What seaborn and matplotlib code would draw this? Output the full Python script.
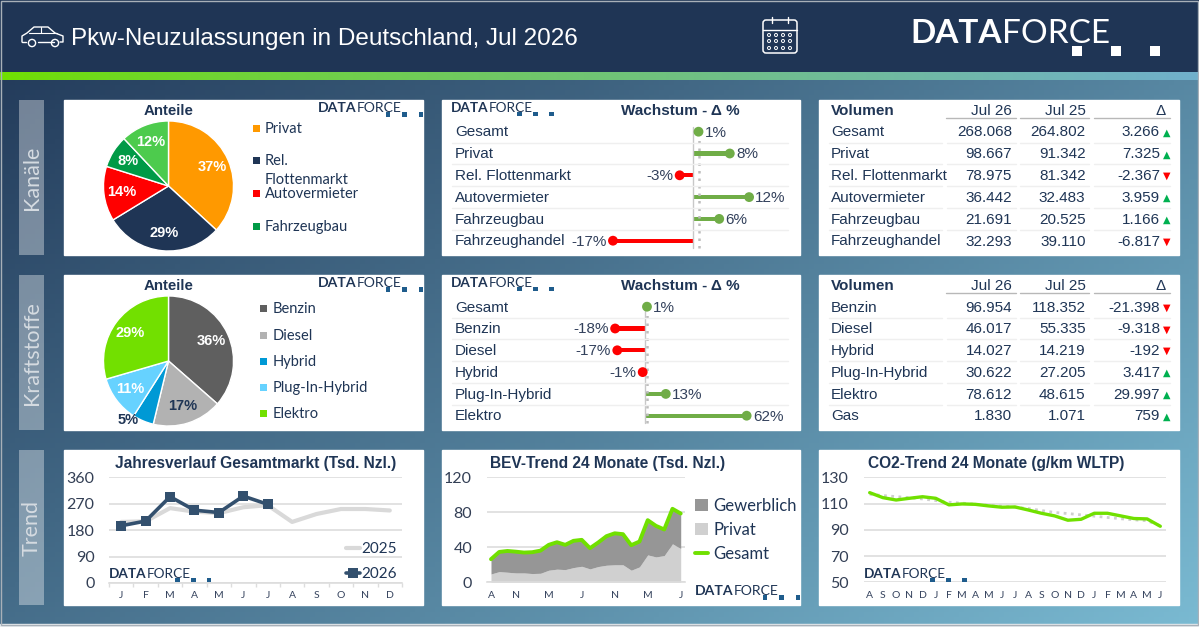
"""Pkw-Neuzulassungen dashboard, Jul 2026."""

import numpy as np
import matplotlib
matplotlib.use('Agg')
import matplotlib.pyplot as plt
from matplotlib.colors import to_rgb
from matplotlib.patches import Rectangle, FancyBboxPatch, Circle
import seaborn as sns

W, H = 1199, 627
NAVY = '#1F3555'
GREEN_LINE = '#70E000'
GRID = '#DDDDDD'
SANS = 'Liberation Sans'
ROUND = 'Lato'

# -- data --
kanal_names = ['Privat', 'Rel. Flottenmarkt', 'Autovermieter', 'Fahrzeugbau']
kanal_legend = ['Privat', 'Rel.\nFlottenmarkt', 'Autovermieter', 'Fahrzeugbau']
kanal_share = [36.8, 29.4, 13.6, 8.1, 12.0]
kanal_colors = ['#FF9900', NAVY, '#FF0000', '#009A46', '#4DCB4D']

kraft_names = ['Benzin', 'Diesel', 'Hybrid', 'Plug-In-Hybrid', 'Elektro']
kraft_share = [36.2, 17.2, 5.2, 11.4, 29.3]
kraft_colors = ['#5F5F5F', '#B2B2B2', '#0099D5', '#66D2FF', '#72E000']

kanal_rows = ['Gesamt', 'Privat', 'Rel. Flottenmarkt', 'Autovermieter', 'Fahrzeugbau', 'Fahrzeughandel']
kanal_growth = [1.2, 8.0, -2.9, 12.2, 5.7, -17.4]
kanal_jul26 = [268068, 98667, 78975, 36442, 21691, 32293]
kanal_jul25 = [264802, 91342, 81342, 32483, 20525, 39110]
kanal_delta = [3266, 7325, -2367, 3959, 1166, -6817]

kraft_rows = ['Gesamt', 'Benzin', 'Diesel', 'Hybrid', 'Plug-In-Hybrid', 'Elektro']
kraft_growth = [1.2, -18.1, -16.8, -1.4, 12.6, 61.6]
kraft_table_rows = ['Benzin', 'Diesel', 'Hybrid', 'Plug-In-Hybrid', 'Elektro', 'Gas']
kraft_jul26 = [96954, 46017, 14027, 30622, 78612, 1830]
kraft_jul25 = [118352, 55335, 14219, 27205, 48615, 1071]
kraft_delta = [-21398, -9318, -192, 3417, 29997, 759]

year_months = ['J', 'F', 'M', 'A', 'M', 'J', 'J', 'A', 'S', 'O', 'N', 'D']
market_2025 = [208, 210, 255, 243, 238, 258, 265, 208, 235, 252, 252, 247]
market_2026 = [195, 211, 294, 248, 240, 296, 268]

bev_total = [26.4, 34.7, 35.8, 35.0, 34.0, 34.4, 36.2, 42.8, 45.8, 42.8, 47.4, 48.5,
             39.0, 45.5, 52.7, 56.0, 55.0, 42.4, 46.6, 71.0, 64.5, 60.4, 84.0, 78.6]
bev_privat = [9.5, 12.2, 11.5, 10.7, 10.7, 10.0, 10.3, 13.8, 15.0, 14.5, 16.8, 18.3,
              15.3, 18.0, 19.5, 20.0, 20.0, 13.8, 17.6, 31.3, 29.0, 30.5, 44.0, 38.6]
bev_gewerblich = [16.9, 22.5, 24.3, 24.3, 23.3, 24.4, 25.9, 29.0, 30.8, 28.3, 30.6, 30.2,
                  23.7, 27.5, 33.2, 36.0, 35.0, 28.6, 29.0, 39.7, 35.5, 29.9, 40.0, 40.0]
bev_tick_pos = [0, 3, 7, 11, 15, 19, 23]
bev_tick_labels = ['A', 'N', 'M', 'J', 'N', 'M', 'J']

co2_months = list('ASONDJFMAMJJASONDJFMAMJ')
co2_values = [118.3, 114.5, 112.7, 114.0, 115.2, 114.0, 109.0, 109.7, 109.4, 108.2, 107.2, 107.4,
              105.1, 102.6, 100.6, 97.3, 98.0, 102.6, 102.6, 100.6, 98.6, 98.3, 92.7]
co2_trend = [117.1, 116.1, 115.3, 114.5, 113.5, 112.3, 111.0, 110.3, 109.5, 108.8, 108.0, 107.2,
             106.2, 104.7, 103.2, 102.4, 101.4, 100.4, 99.4, 98.4, 97.6, 96.9, 93.0]

sns.set_theme(style='white')
plt.rcParams['font.family'] = [SANS, 'DejaVu Sans']

fig = plt.figure(figsize=(W / 100, H / 100), dpi=100)


def px_axes(x0, y0, x1, y1, zorder=2):
    ax = fig.add_axes([x0 / W, 1 - y1 / H, (x1 - x0) / W, (y1 - y0) / H], zorder=zorder)
    ax.patch.set_alpha(0)
    return ax


def hex_array(name):
    return np.array(to_rgb(name))


# -- background, header, white panels --
bg = px_axes(0, 0, W, H, zorder=0)
bg.set_xlim(0, W)
bg.set_ylim(H, 0)
bg.axis('off')

gx, gy = np.meshgrid(np.linspace(0, 1, 240), np.linspace(0, 1, 126))
t = ((gx + 0.75 * gy) / 1.75)[..., None]
grad = hex_array(NAVY) + t * (hex_array('#7ABAD2') - hex_array(NAVY))
bg.imshow(grad, extent=(0, W, H, 0), aspect='auto', zorder=0)
bg.add_patch(Rectangle((0, 0), W, 72, color=NAVY, zorder=1))
s = np.linspace(0, 1, 400)[None, :, None] ** 0.8
stripe = hex_array(GREEN_LINE) + s * (hex_array('#70B0CC') - hex_array(GREEN_LINE))
bg.imshow(stripe, extent=(0, W, 80, 72), aspect='auto', zorder=2)
bg.set_xlim(0, W)
bg.set_ylim(H, 0)
bg.add_patch(Rectangle((0, 624), W, 3, color='#E8ECEF', zorder=2))
bg.add_patch(Rectangle((0.5, 0.5), W - 2, 624, fill=False, ec='#A8B0B8', lw=1, zorder=3))

for top in (100, 275, 450):
    for left, right in ((64, 423), (442, 800), (819, 1179)):
        bg.add_patch(Rectangle((left, top), right - left, 155, color='white', zorder=3))
    bg.add_patch(Rectangle((19, top), 25, 155, color='white', alpha=0.36, lw=0, zorder=3))

# overlay in pixel coordinates for texts and decoration
ov = px_axes(0, 0, W, H, zorder=5)
ov.set_xlim(0, W)
ov.set_ylim(H, 0)
ov.axis('off')


def label(x, y, text, size=11, color=NAVY, ha='left', weight='normal', family=SANS, **kw):
    return ov.text(x, y + 0.8, text, fontsize=size, color=color, ha=ha, va='center',
                   fontweight=weight, family=[family, 'DejaVu Sans'], **kw)


def logo(x, y, scale=0.42, color=NAVY, square='#1F5C8C'):
    label(x, y, 'DATA', size=24 * scale, color=color, weight='bold', family=ROUND)
    label(x + 92 * scale, y, 'FORCE', size=24 * scale, color=color, family=ROUND)
    side = 10 * scale
    for dx in (162, 201, 240):
        ov.add_patch(Rectangle((x + dx * scale, y + 13 * scale), side, side, color=square, lw=0))


label(71, 38, 'Pkw-Neuzulassungen in Deutschland, Jul 2026', size=17.5, color='white')
logo(910, 33, scale=1.0, color='white', square='white')
logo(318, 107)
logo(451, 107, scale=0.41)
logo(318, 282)
logo(451, 282, scale=0.41)
logo(109, 573, scale=0.41)
logo(695, 590)
logo(864, 573, scale=0.41)

for top, name in ((177, 'Kanäle'), (352, 'Kraftstoffe'), (527, 'Trend')):
    label(32, top, name, size=15.5, color='#D5DBE1', ha='center', rotation=90, family=ROUND)

# car icon
ov.plot([22, 22, 27, 34, 48, 55, 63, 63, 60], [42, 36, 33, 27, 27, 33, 36, 42, 42], color='white', lw=1)
ov.plot([22, 26], [42, 42], color='white', lw=1)
ov.plot([38, 54], [42, 42], color='white', lw=1)
ov.plot([29, 57], [33, 33], color='white', lw=0.8)
ov.plot([41, 41], [27, 33], color='white', lw=0.8)
for cx in (32, 55):
    ov.add_patch(Circle((cx, 43), 3.6, fill=False, ec='white', lw=1))

# calendar icon
ov.add_patch(FancyBboxPatch((763, 20), 34, 33, boxstyle='round,pad=0,rounding_size=3', fill=False, ec='white', lw=1.1))
ov.plot([763, 797], [30, 30], color='white', lw=1)
for cx in (772, 788):
    ov.plot([cx, cx], [17, 23], color='white', lw=1)
for row in (35, 41, 48):
    for cx in (769, 776, 783, 790):
        ov.add_patch(Circle((cx, row), 1.5, fill=False, ec='white', lw=0.7))


def draw_pie(cx, cy, share, colors, label_colors):
    ax = px_axes(cx - 66, cy - 66, cx + 66, cy + 66)
    wedges, texts, autotexts = ax.pie(
        share, colors=colors, startangle=90, counterclock=False, autopct='%.0f%%',
        pctdistance=0.73, wedgeprops={'edgecolor': 'white', 'linewidth': 1}, radius=1)
    for at, v, c in zip(autotexts, share, label_colors):
        at.set_text('{:.0f}%'.format(v))
        at.set_color(c)
        at.set_fontsize(10.5)
        at.set_fontweight('bold')
    ax.set_xlim(-1.015, 1.015)
    ax.set_ylim(-1.015, 1.015)
    return autotexts


label(169, 110.5, 'Anteile', size=10.8, ha='center', weight='bold')
draw_pie(168.5, 186, kanal_share, kanal_colors, ['white'] * 5)
for y, name, c in zip((128, 160, 193, 226), kanal_legend, kanal_colors):
    ov.add_patch(Rectangle((253, y - 3.5), 7, 7, color=c, lw=0))
    if '\n' in name:
        first, second = name.split('\n')
        label(265, y, first, size=10.5, family=ROUND)
        label(265, y + 19, second, size=10.5, family=ROUND)
    else:
        label(265, y, name, size=10.5, family=ROUND)

label(169, 285.5, 'Anteile', size=10.8, ha='center', weight='bold')
pct = draw_pie(168.5, 361, kraft_share, kraft_colors, ['white', NAVY, NAVY, 'white', 'white'])
pct[2].set_position((-0.62, -0.9))
for y, name, c in zip((308, 335, 361, 387, 413), kraft_names, kraft_colors):
    ov.add_patch(Rectangle((260, y - 3.5), 7, 7, color=c, lw=0))
    label(273, y, name, size=10.5, family=ROUND)


def draw_growth(top, rows, growth, zero_px, px_per_pct):
    ax = px_axes(442, top + 20.8, 800, top + 151.6)
    colors = ['#70AD47' if v >= 0 else '#FF0000' for v in growth]
    sns.barplot(x=growth, y=rows, hue=rows, palette=colors, width=0.19, legend=False,
                dodge=False, saturation=1, linewidth=0, ax=ax)
    ax.scatter(growth, range(len(growth)), c=colors, s=50, zorder=4, lw=0)
    ax.axvline(0, color='#C8C8C8', lw=1, zorder=1, ymin=0.03, ymax=0.95)
    ax.axvline(growth[0], color='#BDBDBD', lw=1.8, ls=(0, (1, 2)), zorder=1, ymin=0.03, ymax=0.95)
    ax.set_xlim((442 - zero_px) / px_per_pct, (800 - zero_px) / px_per_pct)
    ax.set_ylim(5.5, -0.5)
    ax.axis('off')
    for i, v in enumerate(growth):
        ax.annotate('{:.0f}%'.format(v), (v, i), xytext=(4.5 if v >= 0 else -4.5, -0.6),
                    textcoords='offset points', ha='left' if v >= 0 else 'right',
                    va='center', fontsize=11, color='#33415C')
    for i, name in enumerate(rows):
        label(455, top + 31.7 + i * 21.8, name)
    for i in range(5):
        ov.plot([452, 788], [top + 42.5 + i * 21.8] * 2, color='#EFEFEF', lw=1)
    label(680, top + 10.5, 'Wachstum - Δ %', size=11, ha='center', weight='bold')


draw_growth(100, kanal_rows, kanal_growth, 693, 4.6)
draw_growth(275, kraft_rows, kraft_growth, 645, 1.65)


def dotted(v):
    return '{:,}'.format(v).replace(',', '.')


def draw_table(top, rows, jul26, jul25, delta):
    label(831, top + 10.5, 'Volumen', size=11, weight='bold')
    label(1012, top + 10.5, 'Jul 26', ha='right')
    label(1085.5, top + 10.5, 'Jul 25', ha='right')
    label(1166, top + 10.5, 'Δ', ha='right')
    for x0, x1 in ((946, 1016), (1020, 1089), (1094, 1170)):
        ov.plot([x0, x1], [top + 17.5] * 2, color='#B8B8B8', lw=1)
    for i, name in enumerate(rows):
        y = top + 31.7 + i * 21.8
        label(831, y, name)
        label(1012, y, dotted(jul26[i]), ha='right')
        label(1085.5, y, dotted(jul25[i]), ha='right')
        label(1160, y, dotted(delta[i]), ha='right')
        up = delta[i] > 0
        label(1167, y, '▲' if up else '▼', size=7, ha='center',
              color='#00B050' if up else '#FF0000', family='DejaVu Sans')
        if i < 5:
            for x0, x1 in ((829, 942), (947, 1016), (1020, 1089), (1094, 1170)):
                ov.plot([x0, x1], [top + 42.5 + i * 21.8] * 2, color='#EFEFEF', lw=1)


draw_table(100, kanal_rows, kanal_jul26, kanal_jul25, kanal_delta)
draw_table(275, kraft_table_rows, kraft_jul26, kraft_jul25, kraft_delta)


def style_trend(ax, yticks, ticks, ticklabels, pad=10.5):
    ax.set_yticks(yticks)
    ax.set_ylim(yticks[0], yticks[-1])
    ax.set_xticks(ticks)
    ax.set_xticklabels(ticklabels, fontsize=7.5, color='#33415C', family=ROUND)
    ax.tick_params(axis='y', length=0, pad=pad, labelsize=11.5, labelcolor='#333F55')
    ax.tick_params(axis='x', length=0, pad=6)
    for lab in ax.get_yticklabels():
        lab.set_family(ROUND)
    ax.grid(axis='y', color=GRID, lw=1.2)
    ax.set_axisbelow(True)
    ax.set_xlabel('')
    ax.set_ylabel('')
    for side in ('top', 'right', 'left'):
        ax.spines[side].set_visible(False)
    ax.spines['bottom'].set_color(GRID)
    ax.spines['bottom'].set_linewidth(1.2)


# -- Jahresverlauf --
label(255.5, 462.5, 'Jahresverlauf Gesamtmarkt (Tsd. Nzl.)', size=11.2, ha='center', weight='bold')
ax1 = px_axes(109, 477.3, 402, 583)
sns.lineplot(x=np.arange(len(market_2025)), y=market_2025, color='#D9D9D9', lw=3, label='2025', ax=ax1)
sns.lineplot(x=np.arange(len(market_2026)), y=market_2026, color='#33506E', lw=2.6, marker='s',
             markersize=7, markeredgewidth=0, label='2026', ax=ax1)
ax1.set_xlim(-0.5, 11.5)
style_trend(ax1, [0, 90, 180, 270, 360], range(12), year_months)
ax1.set_xticks(np.arange(-0.5, 12), minor=True)
ax1.tick_params(axis='x', which='minor', length=3, color=GRID, width=1, bottom=True)
ax1.legend(loc='lower right', bbox_to_anchor=(1.03, -0.11), frameon=False, handlelength=0.9,
           handletextpad=0.1, labelspacing=0.72, prop={'family': ROUND, 'size': 11}, labelcolor=NAVY)

# -- BEV trend --
label(608, 462.5, 'BEV-Trend 24 Monate (Tsd. Nzl.)', size=11.2, ha='center', weight='bold')
ax2 = px_axes(486.7, 477.3, 685, 582.3)
bev_x = np.arange(len(bev_total))
ax2.stackplot(bev_x, bev_privat, bev_gewerblich, colors=['#D0D0D0', '#969696'],
              labels=['Privat', 'Gewerblich'], lw=0)
sns.lineplot(x=bev_x, y=bev_total, color=GREEN_LINE, lw=2.8, label='Gesamt', ax=ax2)
ax2.set_xlim(-0.52, 23.52)
style_trend(ax2, [0, 40, 80, 120], bev_tick_pos, bev_tick_labels, pad=10.5)
handles, names = ax2.get_legend_handles_labels()
order = [names.index(n) for n in ('Gewerblich', 'Privat', 'Gesamt')]
ax2.legend([handles[i] for i in order], [names[i] for i in order], loc='center left',
           bbox_to_anchor=(1.0, 0.5), frameon=False, handlelength=0.8, handleheight=0.7,
           handletextpad=0.3, labelspacing=0.48, borderaxespad=0.2,
           prop={'family': ROUND, 'size': 12}, labelcolor=NAVY)

# -- CO2 trend --
label(996, 462.5, 'CO2-Trend 24 Monate (g/km WLTP)', size=11.2, ha='center', weight='bold')
ax3 = px_axes(864, 477.3, 1166, 582.3)
co2_x = np.arange(len(co2_values))
sns.lineplot(x=co2_x, y=co2_trend, color='#CFCFCF', lw=2, linestyle=(0, (1, 1.6)), ax=ax3)
sns.lineplot(x=co2_x, y=co2_values, color=GREEN_LINE, lw=2.4, ax=ax3)
ax3.set_xlim(-0.43, 22.43)
style_trend(ax3, [50, 70, 90, 110, 130], range(len(co2_months)), co2_months, pad=11)
ax3.spines['bottom'].set_visible(False)

fig.savefig('out.png', dpi=100)
plt.close(fig)
